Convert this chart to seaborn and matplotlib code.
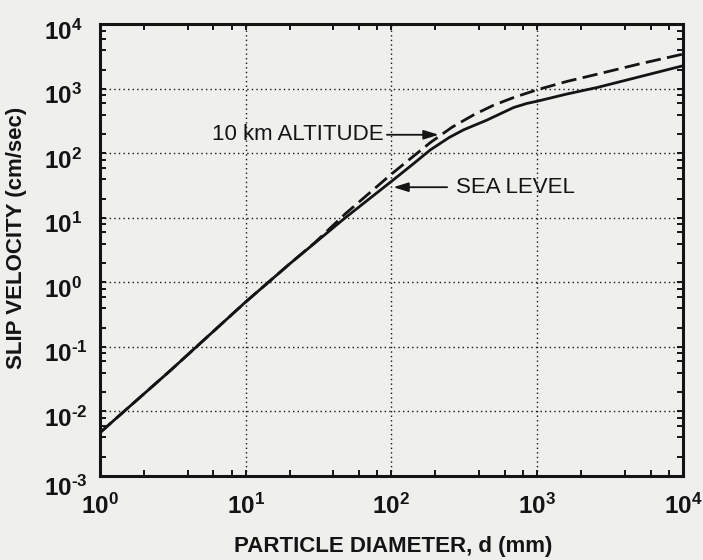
import matplotlib
matplotlib.use("Agg")
import matplotlib.pyplot as plt
import matplotlib.ticker as mticker
import matplotlib.transforms as mtransforms
import seaborn as sns
import numpy as np
import pandas as pd

# particle diameter (mm) and slip velocity (cm/sec)
d_sea = [1, 3, 10, 20, 48, 100, 140, 185, 250, 313, 450, 690, 850, 1000, 1600, 2580, 5000, 10000]
v_sea = [0.0047, 0.042, 0.5, 1.94, 10.0, 37, 68, 114, 178, 233, 328, 517, 597, 646, 836, 1055, 1540, 2290]

d_alt = [1, 3, 10, 20, 30, 48, 100, 140, 185, 260, 367, 500, 690, 1000, 1600, 2580, 5000, 10000]
v_alt = [0.0047, 0.042, 0.5, 1.94, 4.2, 11.5, 48, 89, 148, 255, 398, 558, 738, 973, 1310, 1694, 2440, 3470]

x_ticks = [1, 10, 100, 1000, 10000]
y_ticks = [1e-3, 1e-2, 1e-1, 1, 10, 100, 1000, 10000]

sea = pd.DataFrame({"d": d_sea, "v": v_sea})
alt = pd.DataFrame({"d": d_alt, "v": v_alt})

sns.set_style("ticks")
plt.rcParams['font.family'] = ['Liberation Sans', 'DejaVu Sans']
plt.rcParams['mathtext.fontset'] = 'custom'
plt.rcParams['mathtext.rm'] = 'Liberation Sans'
plt.rcParams['mathtext.bf'] = 'Liberation Sans:bold'

ink = '#141414'
paper = '#efefed'

fig = plt.figure(figsize=(7.03, 5.60), dpi=100, facecolor=paper)
ax = fig.add_axes([0.1422, 0.150, 0.8293, 0.8063])
ax.set_facecolor(paper)

sns.lineplot(data=sea, x="d", y="v", ax=ax, color=ink, lw=2.0, sort=False)
sns.lineplot(data=alt, x="d", y="v", ax=ax, color=ink, lw=2.0, sort=False,
             ls=(0, (5.5, 2.3)))

ax.set_xscale('log')
ax.set_yscale('log')
ax.set_xlim(1, 10000)
ax.set_ylim(1e-3, 1e4)
ax.set_xticks(x_ticks)
ax.set_yticks(y_ticks)
ax.xaxis.set_minor_locator(mticker.LogLocator(base=10, subs=[2, 4, 6, 8], numticks=20))
ax.yaxis.set_minor_locator(mticker.LogLocator(base=10, subs=[2, 4, 6, 8], numticks=20))
ax.xaxis.set_minor_formatter(mticker.NullFormatter())
ax.yaxis.set_minor_formatter(mticker.NullFormatter())

def fmt(val, pos):
    e = int(round(np.log10(val)))
    s = str(abs(e)) if e >= 0 else '\u2010' + str(abs(e))
    return r'$\mathbf{10^{%s}}$' % s

ax.xaxis.set_major_formatter(mticker.FuncFormatter(fmt))
ax.yaxis.set_major_formatter(mticker.FuncFormatter(fmt))

ax.tick_params(which='both', direction='in', top=True, right=True,
               color=ink, width=1.4, labelsize=17.5, labelcolor=ink)
ax.tick_params(which='major', length=4.5)
ax.tick_params(which='minor', length=4.5)
ax.tick_params(axis='x', which='major', pad=13)
ax.tick_params(axis='y', which='major', pad=40)

for sp in ax.spines.values():
    sp.set_linewidth(2.2)
    sp.set_color(ink)

ax.grid(which='major', color=ink, ls=(0, (1, 2.3)), lw=1.0)

# y tick labels: digits left aligned, sitting a little below their ticks
for lab in ax.get_yticklabels():
    lab.set_horizontalalignment('left')
    drop = -10 if lab.get_text().endswith('3}}$') and '\u2010' in lab.get_text() else -5
    lab.set_transform(lab.get_transform() +
                      mtransforms.ScaledTranslation(0, drop / 100, fig.dpi_scale_trans))

ax.set_xlabel("PARTICLE DIAMETER, d (mm)", fontsize=16, fontweight='bold', color=ink)
ax.set_ylabel("SLIP VELOCITY (cm/sec)", fontsize=16, fontweight='bold', color=ink)
ax.xaxis.set_label_coords(0.503, -0.133)
ax.yaxis.set_label_coords(-0.125, 0.527)

# annotations
arrow = dict(arrowstyle='-|>,head_length=0.45,head_width=0.14', color=ink, lw=1.3,
             mutation_scale=20, shrinkA=0, shrinkB=0)
ax.annotate('', xy=(211, 195), xytext=(93, 195), arrowprops=arrow)
ax.text(88, 195, "10 km ALTITUDE", ha='right', va='center', fontsize=16, color=ink)
ax.annotate('', xy=(103, 30), xytext=(241, 30), arrowprops=arrow)
ax.text(279, 30, "SEA LEVEL", ha='left', va='center', fontsize=16, color=ink)

fig.savefig("out.png", dpi=100, facecolor=paper)
